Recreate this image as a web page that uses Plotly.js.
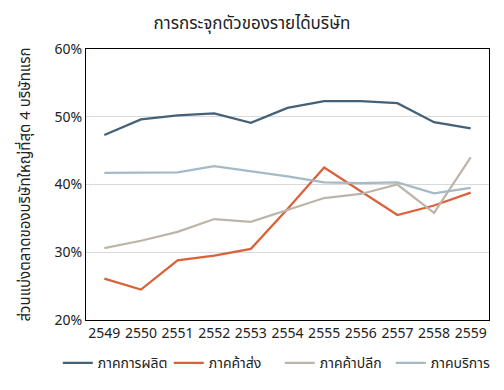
<!DOCTYPE html>
<html><head><meta charset="utf-8">
<script src="https://cdn.plot.ly/plotly-3.0.1.min.js"></script>
<style>body{margin:0;background:#fff}#c{width:504px;height:390px}</style>
</head><body><div id="c"></div>
<script>
const years = ['2549','2550','2551','2552','2553','2554','2555','2556','2557','2558','2559'];
const names = ['ภาคการผลิต','ภาคค้าส่ง','ภาคค้าปลีก','ภาคบริการ'];
const manufacturing = [47.3,49.6,50.2,50.5,49.1,51.3,52.3,52.3,52.0,49.2,48.3];
const wholesale = [26.1,24.5,28.8,29.5,30.5,36.4,42.5,39.0,35.5,36.9,38.8];
const retail = [30.6,31.7,33.0,34.9,34.5,36.3,38.0,38.6,40.0,35.8,44.0];
const services = [41.7,41.8,41.8,42.7,42.0,41.2,40.3,40.2,40.3,38.7,39.5];
const colors = ['#44617a','#d9623b','#bdb5a9','#a5b9c7'];
const series = [manufacturing, wholesale, retail, services];
const font = "Tahoma, 'Noto Sans Thai', 'Noto Sans', 'DejaVu Sans', sans-serif";
const traces = series.map((s,i)=>({
  x: years, y: s.map(v=>v/100), name: names[i], type:'scatter', mode:'lines',
  line:{color:colors[i], width:2.25}
}));
const layout = {
  width:504, height:390,
  margin:{l:86, r:15, t:49, b:69},
  paper_bgcolor:'#fff', plot_bgcolor:'#fff',
  font:{family:font, size:14, color:'#222'},
  title:{text:'การกระจุกตัวของรายได้บริษัท', x:0.5, xanchor:'center', y:0.94, yanchor:'middle', font:{size:17, family:font, color:'#222'}},
  xaxis:{type:'category', showline:true, mirror:true, linecolor:'#000', linewidth:1, showgrid:false, ticks:'', tickfont:{size:14}, range:[-0.5,10.5], automargin:false},
  yaxis:{range:[0.2,0.6], dtick:0.1, tickformat:'.0%', showline:true, mirror:true, linecolor:'#000', linewidth:1,
    gridcolor:'#d9d9d9', zeroline:false, ticks:'', tickfont:{size:14}, ticklen:0, automargin:false,
    title:{text:'ส่วนแบ่งตลาดของบริษัทใหญ่ที่สุด 4 บริษัทแรก', font:{size:15}, standoff:20}},
  showlegend:true,
  legend:{orientation:'h', x:-0.07, xanchor:'left', y:-0.155, yanchor:'middle',
    font:{size:14}, itemwidth:30, entrywidth:66, entrywidthmode:'pixels', tracegroupgap:0, bgcolor:'rgba(0,0,0,0)'}
};
Plotly.newPlot('c', traces, layout, {displayModeBar:false, staticPlot:true});
</script>
</body></html>
